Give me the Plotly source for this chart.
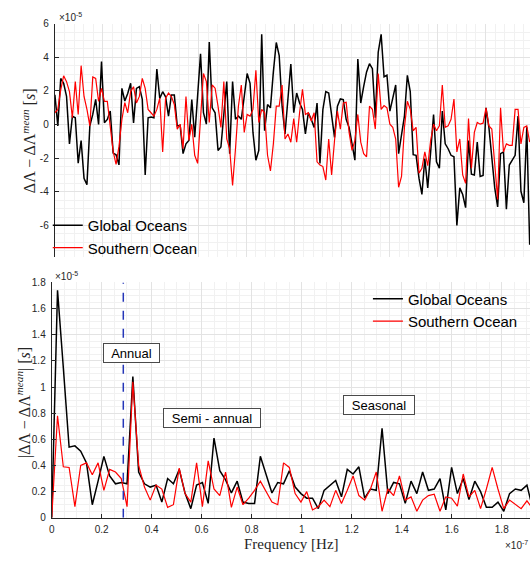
import plotly.graph_objects as go

# ---------------- data ----------------
# Top panel: time series, units of 1e-5 s, monthly samples
top_global = [
    1.77, -0.08, 2.74, 2.45, 1.67, -1.15, 0.5, 0.4, -2.3, -0.95, -3.2, -3.58, -0.08, 0.6, 1.5, 0.0,
    3.75, 0.1, 0.3, 0.8, -1.7, -1.8, -2.4, 2.15, 1.4, 1.85, 2.45, 0.1, 2.15, 2.25, 1.5, -3.0,
    0.4, 0.45, 0.4, 3.3, 1.55, 1.95, 1.65, 0.5, 1.75, 1.75,
    -0.08, -0.05, -1.73, -1.15, -0.95, 1.48, -0.76, 1.67, 4.2, 0.7, 0.02, 4.9, 0.99, 0.7, -1.54, -1.34,
    0.7, 2.55, -1.73, 2.55, 0.31, 0.5, 0.31, 1.77, 3.03, 2.45, -0.47, -2.12, -1.54, 5.36, -0.37, 1.19,
    0.99, 3.13, 4.88, 4.1, 1.09, -0.56, 1.38, 3.6,
    0.7, 1.87, 1.28, 0.89, -0.56, 0.7, 0.31, -0.17, 1.28, -2.31, 0.89, 1.96, 1.87, 0.5, -0.76, 1.09,
    1.52, 1.48, 0.31, -0.17, -1.24, -2.12, 3.9, 1.28, 2.26, 3.13, 3.62, 3.32, 0.41, 4.3, 5.36, 2.84,
    2.93, 0.8, 1.57, 2.35, -1.73, -0.56, 0.5, 2.93, 1.96,
    -1.79, -1.83, -3.19, -4.16, -2.02, -3.77, -1.63, 0.6, -2.22, -2.6, 0.8, -1.15, -1.44, -1.83, -1.92, -6.0,
    -3.77, -4.16, -4.94, -0.95, -2.95, -3.0, -1.05, -3.09, -3.03, 0.99, -0.17, -1.83, -3.77, -4.9, -1.73, -1.63,
    -5.03, -2.41, -2.12, -1.83, 0.5, -3.97, -4.65, -0.17, -7.15,
]
top_southern = [
    0.7, 0.9, 2.06, 2.9, 2.55, 1.96, 0.4, 2.55, 0.6, 3.5, 1.67, 0.9, -0.08, 2.83, 2.74, 1.38,
    2.15, 1.38, 1.38, -0.08, -1.6, -2.37, -1.3, 0.3, 1.3, 0.7, 1.96, 2.25, 1.28, 1.67, 2.74, 2.15,
    0.9, 0.7, 0.5, 0.9, 1.57, -1.63, 1.57, 1.87, 1.67, 1.19,
    -0.27, 0.02, -1.44, 1.67, -0.95, 0.02, -1.83, -2.31, 0.31, 3.03, 2.55, 0.12, 2.35, 2.16, 1.09, -0.17,
    2.55, -0.86, -1.44, -3.62, -1.44, 1.09, 2.35, -0.47, 0.6, 0.5, 0.9, 3.23, 0.12, 0.9, 0.7, -1.83,
    -2.76, -1.15, 1.09, 1.09, 2.35, -0.86, -0.56, -1.05,
    0.35, -1.05, 0.7, 2.1, 0.6, 0.7, 0.21, 0.7, -2.22, -2.41, -2.5, -3.3, -0.86, -3.0, -0.95, 0.8,
    -0.27, 1.28, 1.32, -0.47, -1.54, -0.95, 0.6, -1.05, -1.73, -1.92, 1.09, 0.9, -0.27, 3.03, 0.9, 1.13,
    0.99, 0.02, -0.17, -0.86, -3.73, -3.09, -0.17, 1.38, 0.9,
    -0.37, -0.17, -2.9, -2.6, -1.63, -2.45, -0.95, 0.02, -0.37, -0.08, 2.35, -0.17, -0.08, 0.31, 1.52, -1.63,
    -0.86, -3.0, -3.5, 0.35, -2.6, -0.47, 0.12, 0.02, 0.08, 0.99, -0.08, -0.27, -2.31, -4.45, 0.99, -1.63,
    -1.15, -1.24, -1.24, 0.9, 0.9, -1.15, -0.17, -0.08, -1.05,
]
DAYS_PER_SAMPLE = 30.44

# Bottom panel: amplitude spectrum, units of 1e-5 s, frequency in 1e-7 Hz
FREQ_STEP = 0.02318
spec_global = [
    0, 1.74, 1.15, 0.54, 0.55, 0.51, 0.42, 0.1, 0.28, 0.47, 0.32, 0.26, 0.27, 0.26, 1.08, 0.35,
    0.26, 0.235, 0.25, 0.12, 0.3,
    0.26, 0.37, 0.19, 0.07, 0.25, 0.27, 0.11, 0.61, 0.36, 0.29, 0.19, 0.28, 0.12, 0.11, 0.11,
    0.47, 0.32, 0.19, 0.27, 0.26, 0.36,
    0.235, 0.185, 0.15, 0.15, 0.07, 0.21, 0.25, 0.285, 0.16, 0.37, 0.335, 0.39, 0.15, 0.22, 0.21,
    0.685, 0.185, 0.27, 0.26, 0.11,
    0.28, 0.185, 0.35, 0.21, 0.22, 0.3, 0.06, 0.385, 0.185, 0.3, 0.14, 0.28, 0.2, 0.08, 0.08,
    0.12, 0.05, 0.185, 0.22, 0.21, 0.25, 0.07,
]
spec_southern = [
    0, 0.78, 0.39, 0.385, 0.085, 0.4, 0.42, 0.33, 0.42, 0.21, 0.37, 0.35, 0.3, 0.085, 1.04, 0.4,
    0.235, 0.135, 0.25, 0.22, 0.08,
    0.1, 0.38, 0.185, 0.12, 0.42, 0.085, 0.435, 0.22, 0.17, 0.35, 0.08, 0.235, 0.1, 0.15, 0.21,
    0.28, 0.2, 0.12, 0.1, 0.42, 0.385,
    0.185, 0.12, 0.2, 0.06, 0.085, 0.135, 0.085, 0.21, 0.11, 0.21, 0.32, 0.17, 0.135, 0.22, 0.35,
    0.05, 0.22, 0.17, 0.32, 0.135,
    0.16, 0.05, 0.135, 0.17, 0.18, 0.05, 0.16, 0.15, 0.09, 0.335, 0.16, 0.21, 0.07, 0.22, 0.385,
    0.22, 0.07, 0.135, 0.1, 0.07, 0.13, 0.07,
]
annual_marker = 0.2863  # dashed line position (1e-7 Hz)

series_names = ["Global Oceans", "Southern Ocean"]
top_yticks = [-6, -4, -2, 0, 2, 4, 6]
top_yticklabels = ["-6", "-4", "-2", "0", "2", "4", "6"]
peak_labels = [("Annual", 0.318, 1.26, 53), ("Semi - annual", 0.64, 0.765, 94), ("Seasonal", 1.308, 0.863, 68)]

# ---------------- figure ----------------
W, H = 530, 563
def fx(p):
    return p / W
def fy(p):
    return 1 - p / H

BLACK = "#000000"
RED = "#ff0000"
TXT = "#262626"
GRID = "#e3e3e3"
MINOR = "#f1f1f1"
SANS = "Liberation Sans, Arial, sans-serif"
SERIF = "Liberation Serif, Times New Roman, serif"

n = len(top_global)
days = [i * DAYS_PER_SAMPLE for i in range(n)]
freqs = [k * FREQ_STEP for k in range(len(spec_global))]

fig = go.Figure()
fig.add_trace(go.Scatter(x=days, y=top_global[:n], mode="lines", name=series_names[0],
                         line=dict(color=BLACK, width=1.5), xaxis="x", yaxis="y", legend="legend"))
fig.add_trace(go.Scatter(x=days, y=top_southern[:n], mode="lines", name=series_names[1],
                         line=dict(color=RED, width=1.2), xaxis="x", yaxis="y", legend="legend"))
fig.add_trace(go.Scatter(x=freqs, y=spec_global, mode="lines", name=series_names[0],
                         line=dict(color=BLACK, width=1.5), xaxis="x2", yaxis="y2", legend="legend2"))
fig.add_trace(go.Scatter(x=freqs, y=spec_southern, mode="lines", name=series_names[1],
                         line=dict(color=RED, width=1.2), xaxis="x2", yaxis="y2", legend="legend2"))

tickfont = dict(family=SANS, size=10, color=TXT)

fig.update_layout(
    width=W, height=H,
    margin=dict(l=0, r=0, t=0, b=0),
    paper_bgcolor="white", plot_bgcolor="white",
    xaxis=dict(domain=[fx(52), 1], range=[-2, 4965], anchor="y",
               showticklabels=False, ticks="", tick0=0, dtick=500,
               showgrid=True, gridcolor=GRID, gridwidth=1, zeroline=False, showline=False,
               minor=dict(dtick=100, showgrid=True, gridcolor=MINOR, ticks="")),
    yaxis=dict(domain=[fy(257.4), fy(19)], range=[-7.9, 6], anchor="x",
               tickvals=top_yticks, ticktext=top_yticklabels, ticks="inside", ticklen=4,
               tickcolor=TXT, tickfont=tickfont, ticklabelstandoff=3,
               showgrid=True, gridcolor=GRID, zeroline=False,
               showline=True, linecolor=TXT, linewidth=1,
               minor=dict(dtick=0.5, showgrid=True, gridcolor=MINOR, ticks="")),
    xaxis2=dict(domain=[fx(49), 1], range=[0, 1.913], anchor="y2",
                tick0=0, dtick=0.2, ticks="inside", ticklen=4, tickcolor=TXT, tickfont=tickfont,
                ticklabelstandoff=2,
                showgrid=True, gridcolor=GRID, zeroline=False, showline=True, linecolor=TXT, linewidth=1,
                minor=dict(dtick=0.05, showgrid=True, gridcolor=MINOR, ticks="")),
    yaxis2=dict(domain=[fy(523), fy(283)], range=[0, 1.8], anchor="x2",
                tick0=0, dtick=0.2, ticks="inside", ticklen=4, tickcolor=TXT, tickfont=tickfont,
                ticklabelstandoff=3,
                showgrid=True, gridcolor=GRID, zeroline=False, showline=True, linecolor=TXT, linewidth=1,
                minor=dict(dtick=0.05, showgrid=True, gridcolor=MINOR, ticks="")),
    legend=dict(x=fx(45), y=fy(208), xanchor="left", yanchor="top",
                bgcolor="rgba(0,0,0,0)", borderwidth=0, itemwidth=30,
                font=dict(family=SANS, size=15, color="black"), tracegroupgap=0),
    legend2=dict(x=fx(367), y=fy(283), xanchor="left", yanchor="top",
                 bgcolor="rgba(0,0,0,0)", borderwidth=0, itemwidth=30,
                 font=dict(family=SANS, size=15, color="black"), tracegroupgap=0),
    showlegend=True,
)

# dashed annual marker
fig.add_shape(type="line", xref="x2", yref="y2", x0=annual_marker, x1=annual_marker, y0=0, y1=1.8,
              line=dict(color="#2536b8", width=1.5, dash="dash"))

ann = []
# axis titles
ann.append(dict(text="ΔΛ − ΔΛ<sup><i>mean</i></sup> [<i>s</i>]", xref="paper", yref="paper",
                x=fx(26), y=fy(138), xanchor="center", yanchor="middle", textangle=-90, showarrow=False,
                font=dict(family=SERIF, size=16, color=TXT)))
ann.append(dict(text="|ΔΛ − ΔΛ<sup><i>mean</i></sup>| [<i>s</i>]", xref="paper", yref="paper",
                x=fx(20), y=fy(405), xanchor="center", yanchor="middle", textangle=-90, showarrow=False,
                font=dict(family=SERIF, size=16, color=TXT)))
ann.append(dict(text="Frequency [Hz]", xref="paper", yref="paper", x=fx(290), y=fy(550),
                xanchor="center", yanchor="middle",
                showarrow=False, font=dict(family=SERIF, size=15, color=TXT)))
# exponent labels
ann.append(dict(text="×10<sup>-5</sup>", xref="paper", yref="paper", x=fx(54), y=fy(12),
                xanchor="left", yanchor="middle", showarrow=False, font=dict(family=SANS, size=10, color=TXT)))
ann.append(dict(text="×10<sup>-5</sup>", xref="paper", yref="paper", x=fx(50), y=fy(276),
                xanchor="left", yanchor="middle", showarrow=False, font=dict(family=SANS, size=10, color=TXT)))
ann.append(dict(text="×10<sup>-7</sup>", xref="paper", yref="paper", x=fx(530), y=fy(551),
                xanchor="right", yanchor="middle", showarrow=False, font=dict(family=SANS, size=10, color=TXT)))
# peak labels
for label, xv, yv, w in peak_labels:
    ann.append(dict(text=label, xref="x2", yref="y2", x=xv, y=yv, showarrow=False,
                    width=w, height=16, borderpad=1, bordercolor="#4a4a4a", borderwidth=1,
                    bgcolor="white", font=dict(family=SANS, size=13, color="black")))
fig.update_layout(annotations=ann)

fig.write_html("out.html")
